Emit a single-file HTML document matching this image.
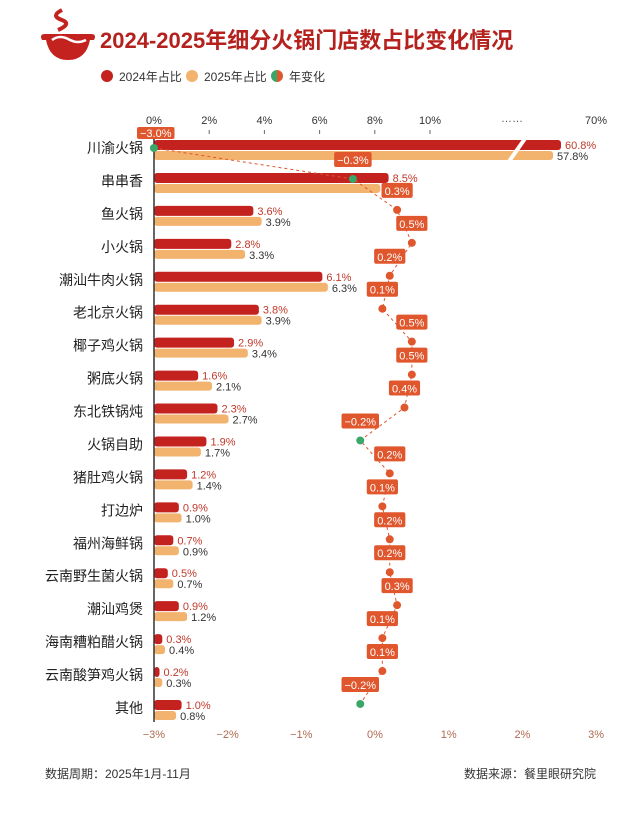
<!DOCTYPE html>
<html><head><meta charset="utf-8"><style>
body{margin:0;background:#fff;}
svg text{font-family:"Liberation Sans","Noto Sans CJK SC",sans-serif;}
</style></head><body>
<svg id="c" width="640" height="811" xmlns="http://www.w3.org/2000/svg">
<g>
<path d="M62 10 q-12 6 0 10 q10 4 -4 10" fill="none" stroke="#c4221f" stroke-width="4"/>
<path d="M45 34 q-6 0 -3 6 h4 q4 20 22 20 q18 0 22 -20 h4 q3 -6 -3 -6 z" fill="#c4221f"/>
<path d="M52 40 q8 -6 18 0 q8 4 16 0" fill="none" stroke="#fff" stroke-width="2.5"/>
</g>
<text x="100" y="48" font-size="22" font-weight="bold" fill="#b5221e">2024-2025年细分火锅门店数占比变化情况</text>
<circle cx="107" cy="76" r="6" fill="#c4221f"/><text x="119" y="81" font-size="12" fill="#333">2024年占比</text>
<circle cx="192" cy="76" r="6" fill="#f2b36e"/><text x="204" y="81" font-size="12" fill="#333">2025年占比</text>
<path d="M277 70 a6 6 0 0 0 0 12 z" fill="#3aa66a"/><path d="M277 70 a6 6 0 0 1 0 12 z" fill="#e0572e"/><text x="289" y="81" font-size="12" fill="#333">年变化</text>
<g id="g"></g>
<text x="45" y="778" font-size="12" fill="#333">数据周期：2025年1月-11月</text>
<text x="596" y="778" font-size="12" fill="#333" text-anchor="end">数据来源：餐里眼研究院</text>
</svg>
<script>
var d=[["川渝火锅",60.8,57.8,-3.0],["串串香",8.5,8.2,-0.3],["鱼火锅",3.6,3.9,0.3],["小火锅",2.8,3.3,0.5],["潮汕牛肉火锅",6.1,6.3,0.2],["老北京火锅",3.8,3.9,0.1],["椰子鸡火锅",2.9,3.4,0.5],["粥底火锅",1.6,2.1,0.5],["东北铁锅炖",2.3,2.7,0.4],["火锅自助",1.9,1.7,-0.2],["猪肚鸡火锅",1.2,1.4,0.2],["打边炉",0.9,1.0,0.1],["福州海鲜锅",0.7,0.9,0.2],["云南野生菌火锅",0.5,0.7,0.2],["潮汕鸡煲",0.9,1.2,0.3],["海南糟粕醋火锅",0.3,0.4,0.1],["云南酸笋鸡火锅",0.2,0.3,0.1],["其他",1.0,0.8,-0.2]];
var s="",X0=154,K=27.6,Z=375,KC=73.7;
function bx(v){return X0+v*K;}
var tl=["0%","2%","4%","6%","8%","10%"];
for(var i=0;i<6;i++){var x=X0+i*2*K;s+='<text x="'+x+'" y="124" font-size="11" fill="#333" text-anchor="middle">'+tl[i]+'</text><line x1="'+x+'" y1="130" x2="'+x+'" y2="134" stroke="#666"/>';}
s+='<text x="512" y="122" font-size="11" fill="#555" text-anchor="middle">……</text><text x="596" y="124" font-size="11" fill="#333" text-anchor="middle">70%</text>';
for(var j=-3;j<=3;j++){var x=Z+j*KC;s+='<text x="'+x+'" y="738" font-size="11" fill="#b06a50" text-anchor="middle">'+(j<0?'−'+(-j):j)+'%</text>';}
var pts=[];
for(var i=0;i<d.length;i++){var r=d[i],cy=148+i*32.94;
s+='<text x="143" y="'+(cy+5)+'" font-size="14" fill="#222" text-anchor="end">'+r[0]+'</text>';
var x1=i==0?561:bx(r[1]),x2=i==0?553:bx(r[2]);
s+='<rect x="'+X0+'" y="'+(cy-8)+'" width="'+(x1-X0)+'" height="10" rx="3" fill="#c4221f"/>';
s+='<rect x="'+X0+'" y="'+(cy+3)+'" width="'+(x2-X0)+'" height="9" rx="3" fill="#f2b36e"/>';
s+='<text x="'+(x1+4)+'" y="'+(cy+1)+'" font-size="11" fill="#c0392b">'+r[1].toFixed(1)+'%</text>';
s+='<text x="'+(x2+4)+'" y="'+(cy+12)+'" font-size="11" fill="#333">'+r[2].toFixed(1)+'%</text>';
var dx=Z+r[3]*KC,dy=i==0?148:cy-(i==1?2:4);pts.push([dx,dy]);}
s+='<rect x="515" y="135" width="4" height="30" fill="#fff" transform="rotate(35 517 150)"/>';
s+='<line x1="'+X0+'" y1="138" x2="'+X0+'" y2="722" stroke="#333" stroke-width="1.5"/>';
var p="M"+pts.map(function(a){return a[0]+" "+a[1]}).join(" L");
s+='<path d="'+p+'" fill="none" stroke="#e0572e" stroke-width="1" stroke-dasharray="3,3"/>';
for(var i=0;i<d.length;i++){var v=d[i][3],a=pts[i],t=(v<0?'−':'')+Math.abs(v).toFixed(1)+'%',w=t.length*6.3+6;
var bxx=a[0]-w/2,by=a[1]-27;if(i==0){bxx=137;by=127;}
s+='<rect x="'+bxx+'" y="'+by+'" width="'+w+'" height="'+(i==0?12:15)+'" rx="2" fill="#e0572e"/><text x="'+(bxx+w/2)+'" y="'+(by+(i==0?10:12))+'" font-size="11" fill="#fff" text-anchor="middle">'+t+'</text>';
s+='<circle cx="'+a[0]+'" cy="'+a[1]+'" r="4" fill="'+(v<0?'#3aa66a':'#e0572e')+'"/>';}
document.getElementById("g").innerHTML=s;
</script>
</body></html>
